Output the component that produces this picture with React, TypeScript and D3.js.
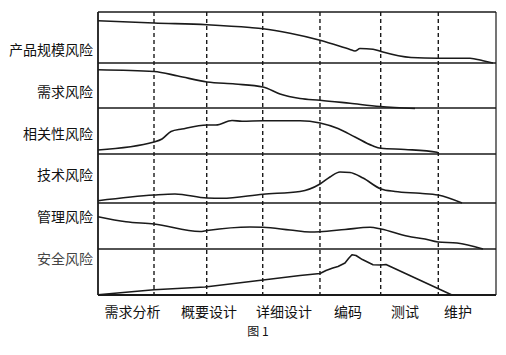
import React from "react";
import * as d3 from "d3";

// ---- data ----
const riskNames = ["产品规模风险", "需求风险", "相关性风险", "技术风险", "管理风险", "安全风险"];
const phaseNames = ["需求分析", "概要设计", "详细设计", "编码", "测试", "维护"];
// label centres along the time axis (phase units)
const phaseLabelAt = [0.607, 1.952, 3.271, 4.397, 5.399, 6.331];
// dashed phase boundaries (phase units)
const phaseBoundaries = [0.985, 1.912, 2.897, 3.904, 4.972, 5.985];

// each series: time (phase units) and risk level (0..10 inside its row)
const scaleT = [0, 0.985, 1.917, 2.673, 2.902, 3.377, 3.905, 4.432, 4.52, 4.608, 4.837, 4.977, 5.505, 5.98, 6.543, 6.771, 6.947];
const scaleV = [8.29, 7.84, 7.51, 6.96, 6.71, 5.82, 4.45, 2.65, 2.35, 2.84, 2.71, 2.25, 1.08, 0.94, 0.94, 0.43, 0];

const reqT = [0, 0.985, 1.407, 1.917, 2.41, 2.902, 3.201, 3.553, 3.905, 4.432, 4.96, 5.575];
const reqV = [8.51, 8.11, 7.11, 5.78, 5.33, 4.67, 3.11, 2.11, 1.73, 1.04, 0.33, -0.1];

const relT = [0, 0.985, 1.126, 1.284, 1.477, 1.917, 2.075, 2.357, 2.533, 2.902, 3.553, 3.905, 4.221, 4.52, 4.819, 4.977, 5.399, 5.962, 5.997];
const relV = [0.87, 2.61, 3.26, 4.89, 5.43, 6.3, 6.3, 7.28, 7.13, 7.22, 7.22, 6.74, 5.54, 3.7, 1.85, 1.24, 0.98, 0.37, 0];

const techT = [0, 0.985, 1.354, 1.917, 2.181, 2.902, 3.553, 3.905, 4.08, 4.256, 4.432, 4.661, 4.977, 5.224, 5.663, 5.98, 6.402];
const techV = [0.47, 1.63, 1.84, 1.02, 0.96, 1.8, 2.35, 3.88, 5.31, 6.33, 6.22, 5.1, 2.86, 2.35, 1.98, 1.63, 0];

const mgmtT = [0, 0.492, 0.985, 1.794, 1.917, 2.673, 2.902, 3.377, 3.729, 3.905, 4.344, 4.784, 4.977, 5.452, 5.751, 5.98, 6.314, 6.771];
const mgmtV = [7.0, 5.91, 5.43, 3.8, 4.02, 4.78, 4.72, 4.13, 3.7, 3.76, 4.24, 4.72, 4.35, 2.76, 2.17, 1.52, 1.3, 0];

const safeT = [0, 0.985, 1.882, 2.902, 3.553, 3.905, 4.01, 4.13, 4.221, 4.344, 4.41, 4.467, 4.538, 4.65, 4.837, 4.977, 5.065, 6.226];
const safeV = [0.07, 1.15, 1.74, 3.26, 4.24, 4.67, 5.33, 5.85, 6.2, 6.96, 8.0, 8.76, 8.59, 7.7, 6.59, 6.52, 6.63, 0];

const seriesT = [scaleT, reqT, relT, techT, mgmtT, safeT];
const seriesV = [scaleV, reqV, relV, techV, mgmtV, safeV];

// ---- layout ----
const W = 506;
const H = 355;
const plotLeft = 98;
const plotRight = 496;
const rowEdges = [12, 63, 108, 154, 203, 249, 295];
const ink = "#1a1a1a";
const font = "'Noto Sans CJK SC', 'Noto Sans', sans-serif";

export default function App() {
  const x = d3.scaleLinear().domain([0, 7]).range([plotLeft, plotRight]);
  const labelY = d3.scalePoint<string>().domain(riskNames).range([49, 258]);
  const top = rowEdges[0];
  const bottom = rowEdges[rowEdges.length - 1];

  const paths = riskNames.map((_, i) => {
    const y = d3.scaleLinear().domain([0, 10]).range([rowEdges[i + 1], rowEdges[i]]);
    const pts = seriesT[i].map((t, k) => [t, seriesV[i][k]] as [number, number]);
    const line = d3
      .line<[number, number]>()
      .x((d) => x(d[0]))
      .y((d) => y(d[1]))
      .curve(i === 5 ? d3.curveLinear : d3.curveMonotoneX);
    return line(pts) || "";
  });

  return (
    <svg
      width={W}
      height={H}
      viewBox={`0 0 ${W} ${H}`}
      style={{ position: "absolute", left: 0, top: 0, background: "#fff" }}
    >
      <rect x={0} y={0} width={W} height={H} fill="#fff" />
      {/* dashed phase boundaries */}
      {phaseBoundaries.map((b, i) => (
        <line
          key={"d" + i}
          x1={x(b)}
          x2={x(b)}
          y1={top}
          y2={bottom}
          stroke={ink}
          strokeWidth={1.4}
          strokeDasharray="4,3"
        />
      ))}
      {/* row separators */}
      {rowEdges.map((e, i) => (
        <line
          key={"r" + i}
          x1={plotLeft}
          x2={plotRight}
          y1={e}
          y2={e}
          stroke={ink}
          strokeWidth={i === rowEdges.length - 1 ? 2 : 1.4}
        />
      ))}
      <line x1={plotLeft} x2={plotLeft} y1={top} y2={bottom} stroke={ink} strokeWidth={1.8} />
      <line x1={plotRight} x2={plotRight} y1={top} y2={bottom} stroke={ink} strokeWidth={1.2} />
      {/* curves */}
      {paths.map((p, i) => (
        <path key={"p" + i} d={p} fill="none" stroke={ink} strokeWidth={1.6} strokeLinejoin="round" />
      ))}
      {/* risk labels */}
      {riskNames.map((n, i) => (
        <text
          key={"l" + i}
          x={93}
          y={labelY(n)}
          textAnchor="end"
          dominantBaseline="central"
          fontFamily={font}
          fontSize={14}
          fill={i === 5 ? "#444" : "#111"}
        >
          {n}
        </text>
      ))}
      {/* phase labels */}
      {phaseNames.map((n, i) => (
        <text
          key={"ph" + i}
          x={x(phaseLabelAt[i])}
          y={311}
          textAnchor="middle"
          dominantBaseline="central"
          fontFamily={font}
          fontSize={14}
          fill="#111"
        >
          {n}
        </text>
      ))}
      <text
        x={258}
        y={330}
        textAnchor="middle"
        dominantBaseline="central"
        fontFamily={font}
        fontSize={12}
        fill="#111"
      >
        图 1
      </text>
    </svg>
  );
}
